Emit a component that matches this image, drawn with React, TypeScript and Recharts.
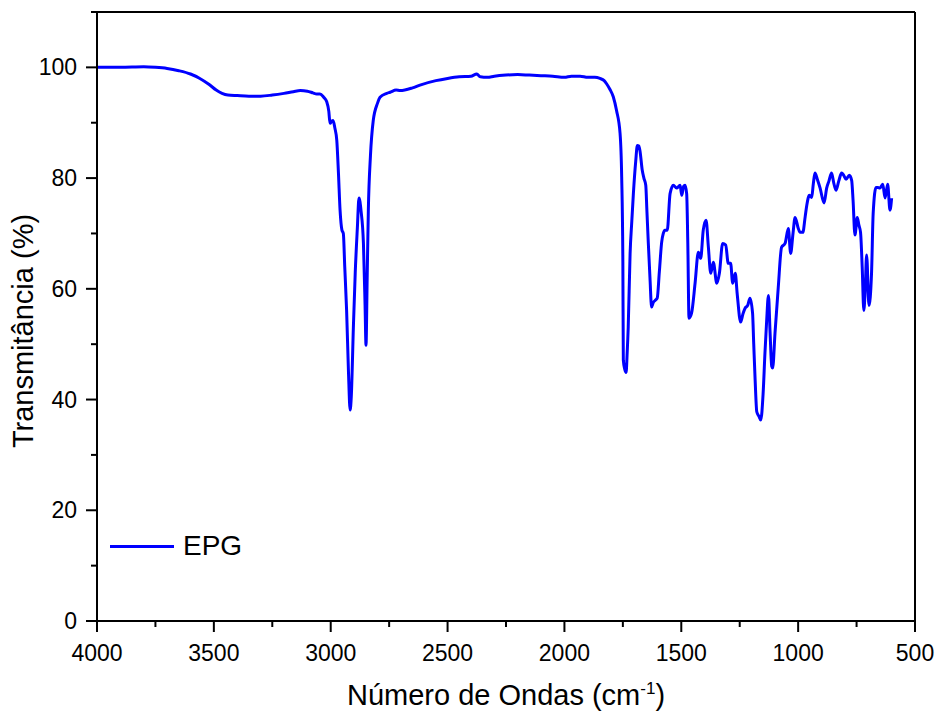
import { LineChart, Line, XAxis, YAxis, ReferenceLine, Legend } from "recharts";

// número de onda (cm-1), do maior para o menor
const wavenumbers = [
  4000, 3900, 3800, 3750, 3700, 3650, 3600, 3560, 3520, 3490, 3465, 3440, 3400, 3350, 3300, 3250,
  3200, 3160, 3130, 3100, 3076, 3060, 3046, 3030, 3017, 3008, 3003, 2995, 2990, 2982, 2974, 2967,
  2960, 2952, 2946, 2940, 2932, 2924, 2917, 2912, 2903, 2895, 2886, 2879, 2870, 2860, 2853, 2849,
  2844, 2839, 2830, 2818, 2800, 2789, 2760, 2746, 2720, 2703, 2650, 2618, 2550, 2500, 2450, 2400,
  2375, 2360, 2330, 2300, 2250, 2200, 2150, 2100, 2050, 2000, 1970, 1933, 1900, 1870, 1848, 1830,
  1819, 1805, 1791, 1777, 1762, 1755, 1750, 1748, 1742, 1736, 1732, 1727, 1719, 1712, 1705, 1695,
  1688, 1682, 1677, 1667, 1660, 1652, 1647, 1641, 1634, 1627, 1620, 1612, 1603, 1594, 1584, 1577,
  1570, 1560, 1548, 1534, 1520, 1505, 1498, 1490, 1484, 1477, 1472, 1467, 1456, 1441, 1427, 1417,
  1406, 1394, 1384, 1374, 1363, 1348, 1337, 1323, 1310, 1299, 1289, 1280, 1269, 1261, 1246, 1236,
  1227, 1216, 1206, 1195, 1190, 1184, 1177, 1168, 1160, 1150, 1142, 1135, 1127, 1120, 1113, 1109,
  1099, 1085, 1071, 1056, 1042, 1032, 1022, 1013, 1000, 992, 980, 970, 963, 952, 942, 935,
  928, 918, 906, 889, 878, 868, 857, 847, 838, 826, 814, 805, 795, 781, 771, 765,
  757, 747, 740, 733, 726, 719, 713, 707, 697, 686, 679, 667, 658, 650, 638, 628,
  617, 607, 600,
];

// transmitância (%)
const epg = [
  100.0, 100.0, 100.1, 100.0, 99.8, 99.4, 98.8, 98.0, 96.9, 95.9, 95.3, 95.0, 94.9, 94.8, 94.8, 95.0,
  95.3, 95.6, 95.8, 95.7, 95.4, 95.2, 95.2, 94.6, 93.8, 92.0, 89.9, 90.3, 90.4, 89.0, 86.8, 81.0,
  74.2, 70.6, 70.0, 64.0, 56.1, 45.0, 38.1, 40.5, 53.1, 63.0, 71.0, 76.4, 74.0, 68.2, 57.0, 49.8,
  62.0, 74.2, 84.0, 90.4, 93.5, 94.6, 95.3, 95.5, 95.9, 95.8, 96.3, 96.8, 97.6, 98.0, 98.3, 98.4,
  98.8, 98.3, 98.2, 98.4, 98.6, 98.7, 98.6, 98.5, 98.4, 98.2, 98.4, 98.4, 98.2, 98.2, 98.0, 97.6,
  97.0, 96.0, 94.7, 92.2, 88.1, 80.2, 65.0, 47.1, 45.5, 44.9, 48.0, 53.1, 66.4, 72.0, 77.2, 83.0,
  85.9, 85.8, 85.0, 81.4, 80.0, 78.7, 74.0, 68.2, 62.0, 56.7, 57.5, 57.9, 58.3, 63.0, 68.4, 70.0,
  70.6, 70.6, 77.2, 78.7, 78.2, 78.7, 76.9, 78.5, 78.7, 77.2, 68.0, 54.7, 55.6, 61.0, 66.6, 65.5,
  70.6, 72.4, 67.5, 62.8, 64.8, 61.0, 62.8, 68.2, 67.9, 64.6, 64.6, 61.0, 62.8, 59.2, 54.0, 55.5,
  56.5, 57.0, 58.3, 55.6, 50.0, 43.5, 37.8, 37.0, 36.3, 41.0, 48.4, 54.0, 58.8, 52.0, 46.0, 45.7,
  52.0, 60.3, 67.5, 68.2, 70.9, 66.4, 70.0, 72.9, 71.0, 70.2, 70.2, 73.0, 75.1, 76.9, 76.5, 79.0,
  80.9, 79.8, 78.2, 75.5, 78.2, 79.5, 80.9, 79.0, 77.8, 79.5, 80.9, 80.5, 79.8, 80.5, 79.6, 76.0,
  69.7, 72.9, 71.5, 70.2, 64.0, 56.1, 60.0, 66.1, 57.0, 62.8, 73.6, 78.3, 78.3, 78.2, 78.9, 76.4,
  78.9, 74.2, 76.4,
];

const xTicks = [4000, 3750, 3500, 3250, 3000, 2750, 2500, 2250, 2000, 1750, 1500, 1250, 1000, 750, 500];
const yTicks = [0, 10, 20, 30, 40, 50, 60, 70, 80, 90, 100, 110];

const data = wavenumbers.map((wn, i) => ({ wn, EPG: epg[i] }));

const font = "'Liberation Sans', Arial, sans-serif";

const XTick = (props: any) => {
  const { x, y, payload } = props;
  const major = payload.value % 500 === 0;
  return (
    <g>
      <line x1={x} x2={x} y1={y} y2={y + (major ? 11 : 6)} stroke="#000" strokeWidth={2} />
      {major && (
        <text x={x} y={y + 40} textAnchor="middle" fontSize={23} fontFamily={font} fill="#000">
          {payload.value}
        </text>
      )}
    </g>
  );
};

const YTick = (props: any) => {
  const { x, y, payload } = props;
  const major = payload.value % 20 === 0;
  return (
    <g>
      <line x1={x} x2={x - (major ? 11 : 6)} y1={y} y2={y} stroke="#000" strokeWidth={2} />
      {major && (
        <text x={x - 20} y={y + 8} textAnchor="end" fontSize={23} fontFamily={font} fill="#000">
          {payload.value}
        </text>
      )}
    </g>
  );
};

const LegendBox = () => (
  <div style={{ display: "flex", alignItems: "center", fontFamily: font, fontSize: 28 }}>
    <div style={{ width: 64, height: 3, background: "#0000ff", marginRight: 9 }} />
    <span>EPG</span>
  </div>
);

export default function App() {
  return (
    <div style={{ position: "absolute", left: 0, top: 0, background: "#fff" }}>
      <LineChart width={938} height={713} data={data} margin={{ top: 12, right: 23, bottom: 0, left: 0 }}>
        <XAxis
          dataKey="wn"
          type="number"
          domain={[500, 4000]}
          reversed
          ticks={xTicks}
          interval={0}
          tick={<XTick />}
          tickLine={false}
          tickSize={0}
          tickMargin={0}
          height={92}
          axisLine={{ stroke: "#000", strokeWidth: 2 }}
          label={{
            content: () => (
              <text x={506} y={705} textAnchor="middle" fontSize={29} fontFamily={font} fill="#000">
                Número de Ondas (cm
                <tspan fontSize={17} dy={-11}>-1</tspan>
                <tspan dy={11}>)</tspan>
              </text>
            ),
          }}
        />
        <YAxis
          type="number"
          domain={[0, 110]}
          ticks={yTicks}
          interval={0}
          tick={<YTick />}
          tickLine={false}
          tickSize={0}
          tickMargin={0}
          width={97}
          axisLine={{ stroke: "#000", strokeWidth: 2 }}
          label={{
            content: () => (
              <text
                x={33}
                y={331}
                textAnchor="middle"
                fontSize={29}
                fontFamily={font}
                fill="#000"
                transform="rotate(-90 33 331)"
              >
                Transmitância (%)
              </text>
            ),
          }}
        />
        <ReferenceLine y={110} stroke="#000" strokeWidth={2} />
        <ReferenceLine x={500} stroke="#000" strokeWidth={2} />
        <Legend
          layout="vertical"
          align="center"
          verticalAlign="middle"
          content={<LegendBox />}
          wrapperStyle={{ left: 110, top: 530, width: 220 }}
        />
        <Line
          dataKey="EPG"
          type="monotone"
          stroke="#0000ff"
          strokeWidth={3}
          dot={false}
          isAnimationActive={false}
        />
      </LineChart>
    </div>
  );
}
